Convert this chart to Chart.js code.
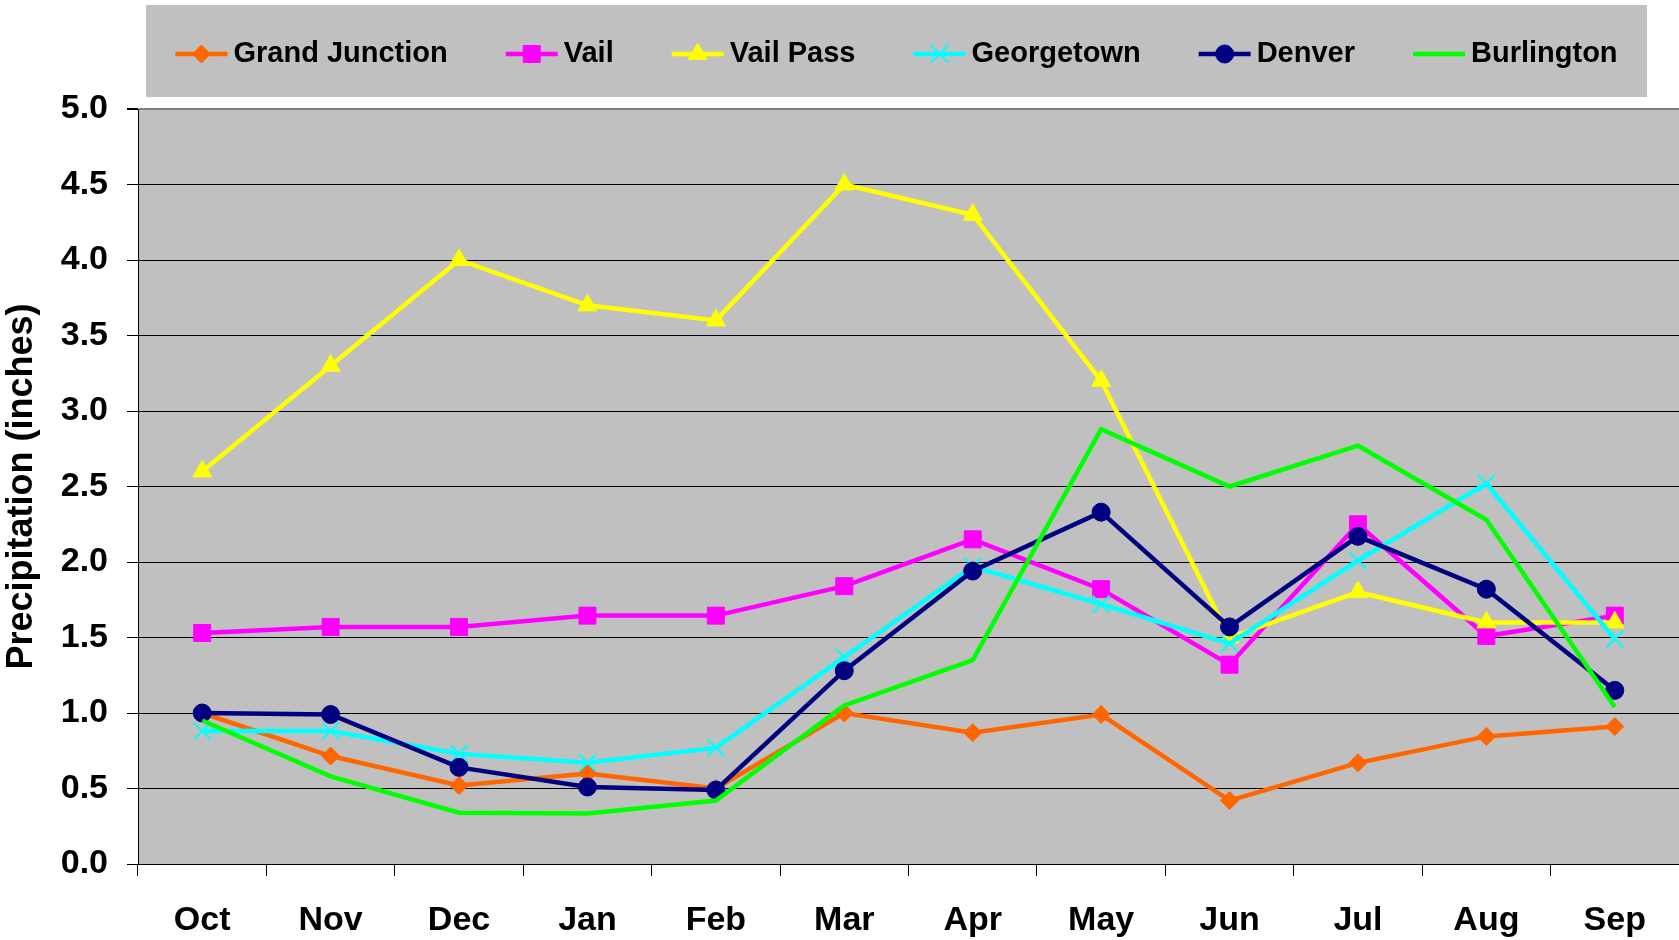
<!DOCTYPE html>
<html>
<head>
<meta charset="utf-8">
<script src="https://cdn.jsdelivr.net/npm/chart.js@4.4.1/dist/chart.umd.min.js"></script>
<style>
  html, body { margin: 0; padding: 0; background: #fff; }
  #wrap { width: 1679px; height: 940px; }
</style>
</head>
<body>
<div id="wrap"><canvas id="c" width="1679" height="940"></canvas></div>
<script>
const months = ['Oct','Nov','Dec','Jan','Feb','Mar','Apr','May','Jun','Jul','Aug','Sep'];
const seriesNames = ['Grand Junction','Vail','Vail Pass','Georgetown','Denver','Burlington'];
const grandJunction = [1.00,0.715,0.52,0.60,0.50,1.00,0.87,0.99,0.42,0.67,0.845,0.91];
const vail          = [1.53,1.57,1.57,1.645,1.645,1.84,2.15,1.82,1.32,2.25,1.51,1.645];
const vailPass      = [2.60,3.30,4.00,3.70,3.60,4.50,4.30,3.20,1.50,1.80,1.60,1.60];
const georgetown    = [0.88,0.88,0.73,0.67,0.77,1.37,1.97,1.72,1.46,2.01,2.52,1.49];
const denver        = [1.00,0.99,0.64,0.51,0.49,1.28,1.94,2.33,1.57,2.17,1.82,1.15];
const burlington    = [0.95,0.58,0.34,0.335,0.42,1.05,1.35,2.88,2.50,2.77,2.28,1.04];
const yTicks = [0,0.5,1.0,1.5,2.0,2.5,3.0,3.5,4.0,4.5,5.0];

const FONT = "'Liberation Sans', Arial, sans-serif";

const styles = [
  {color:'#FF6600', pointStyle:'rectRot', radius:9, pbw:1},
  {color:'#FF00FF', pointStyle:'rect', radius:12, pbw:1},
  {color:'#FFFF00', pointStyle:'triangle', radius:11, pbw:1},
  {color:'#00FFFF', pointStyle:'crossRot', radius:12, pbw:2},
  {color:'#000080', pointStyle:'circle', radius:9, pbw:1},
  {color:'#00FF00', pointStyle:'circle', radius:0, pbw:0}
];
const allData = [grandJunction, vail, vailPass, georgetown, denver, burlington];

const datasets = allData.map((d, i) => ({
  label: seriesNames[i],
  data: d,
  borderColor: styles[i].color,
  backgroundColor: styles[i].color,
  borderWidth: 4.5,
  pointStyle: styles[i].pointStyle,
  pointRadius: styles[i].radius,
  pointHoverRadius: styles[i].radius,
  pointBorderWidth: styles[i].pbw,
  pointBorderColor: styles[i].color,
  pointBackgroundColor: styles[i].color,
  tension: 0,
  fill: false,
  order: allData.length - i
}));

const plotBg = {
  id: 'plotBg',
  beforeDraw(chart) {
    const a = chart.chartArea, ctx = chart.ctx;
    ctx.save();
    ctx.fillStyle = '#C0C0C0';
    ctx.fillRect(a.left, a.top, a.right - a.left, a.bottom - a.top);
    ctx.restore();
  }
};

const legendPlugin = {
  id: 'excelLegend',
  afterDraw(chart) {
    const ctx = chart.ctx;
    const box = {x:146, y:5, w:1501, h:92};
    ctx.save();
    ctx.fillStyle = '#C0C0C0';
    ctx.fillRect(box.x, box.y, box.w, box.h);
    ctx.font = 'bold 29px ' + FONT;
    const lineW = 52, gapText = 6, gapItem = 58;
    const widths = chart.data.datasets.map(ds => lineW + gapText + ctx.measureText(ds.label).width);
    const total = widths.reduce((a,b)=>a+b,0) + gapItem*(widths.length-1);
    let x = box.x + (box.w - total)/2;
    const cy = box.y + box.h/2 + 3;
    chart.data.datasets.forEach((ds, i) => {
      ctx.strokeStyle = ds.borderColor;
      ctx.lineWidth = 4.5;
      ctx.beginPath();
      ctx.moveTo(x, cy);
      ctx.lineTo(x + lineW, cy);
      ctx.stroke();
      if (ds.pointRadius > 0) {
        ctx.fillStyle = ds.pointBackgroundColor;
        ctx.strokeStyle = ds.pointBorderColor;
        ctx.lineWidth = ds.pointBorderWidth;
        Chart.helpers.drawPoint(ctx, {pointStyle: ds.pointStyle, radius: ds.pointRadius, borderWidth: ds.pointBorderWidth, rotation: 0}, x + lineW/2, cy);
      }
      ctx.fillStyle = '#000';
      ctx.textBaseline = 'middle';
      ctx.textAlign = 'left';
      ctx.fillText(ds.label, x + lineW + gapText, cy);
      x += widths[i] + gapItem;
    });
    ctx.restore();
  }
};

new Chart(document.getElementById('c'), {
  type: 'line',
  data: { labels: months, datasets },
  plugins: [plotBg, legendPlugin],
  options: {
    responsive: false,
    animation: false,
    devicePixelRatio: 1,
    layout: { autoPadding: false, padding: { top: 109, left: 0, right: 0, bottom: 0 } },
    plugins: {
      legend: { display: false },
      tooltip: { enabled: false },
      title: { display: false }
    },
    scales: {
      x: {
        type: 'category',
        offset: true,
        grid: {
          offset: true,
          drawOnChartArea: false,
          drawTicks: true,
          tickLength: 12,
          color: '#000',
          lineWidth: 1
        },
        border: { display: true, color: '#000', width: 1 },
        ticks: {
          color: '#000',
          font: { family: FONT, size: 34, weight: 'bold' },
          padding: 24,
          maxRotation: 0,
          autoSkip: false
        },
        afterFit(scale) { scale.height = 76; scale.paddingLeft = 0; scale.paddingRight = 0; }
      },
      y: {
        min: 0,
        max: 5,
        afterBuildTicks(scale) { scale.ticks = yTicks.map(v => ({value: v})); },
        grid: {
          color: (c) => (c.tick && c.tick.value === 5) ? '#808080' : '#000',
          lineWidth: (c) => (c.tick && c.tick.value === 5) ? 2 : 1,
          tickColor: '#000',
          tickLength: 11,
          drawTicks: true
        },
        border: { display: true, color: '#000', width: 1 },
        ticks: {
          color: '#000',
          font: { family: FONT, size: 34, weight: 'bold' },
          padding: 19,
          callback: (v) => Number(v).toFixed(1)
        },
        title: {
          display: true,
          text: 'Precipitation (inches)',
          color: '#000',
          font: { family: FONT, size: 36, weight: 'bold' },
          padding: { top: 0, bottom: 0 }
        },
        afterFit(scale) { scale.width = 138; }
      }
    }
  },
});
</script>
</body>
</html>
